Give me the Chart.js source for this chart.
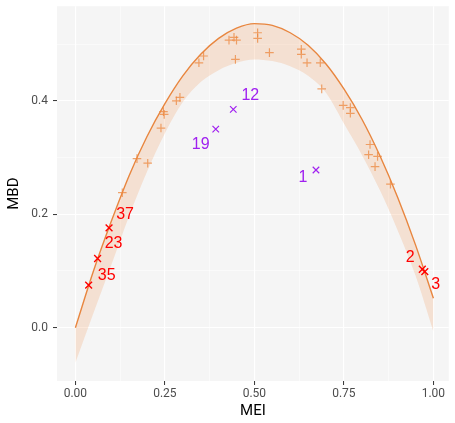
<!DOCTYPE html>
<html>
<head>
<meta charset="utf-8">
<script src="https://cdn.jsdelivr.net/npm/chart.js@4.4.1/dist/chart.umd.min.js"></script>
<style>
  html, body { margin: 0; padding: 0; background: #ffffff; }
  #wrap { width: 455px; height: 423px; position: relative; }
</style>
</head>
<body>
<div id="wrap"><canvas id="mbdChart" width="455" height="423"></canvas></div>
<script>
// Reference curve (upper edge) and ribbon lower edge
const curveMEI = [0, 0.05, 0.10, 0.15, 0.20, 0.25, 0.30, 0.35, 0.40, 0.45, 0.50,
                  0.55, 0.60, 0.65, 0.70, 0.75, 0.80, 0.85, 0.90, 0.95, 1.00];
const upperMBD = [0, 0.099, 0.187, 0.268, 0.337, 0.395, 0.444, 0.482, 0.510, 0.528, 0.536,
                  0.533, 0.520, 0.498, 0.465, 0.421, 0.368, 0.304, 0.230, 0.146, 0.052];
const lowerMBD = [-0.062, 0.025, 0.110, 0.197, 0.275, 0.343, 0.398, 0.433, 0.454, 0.467, 0.473,
                  0.470, 0.461, 0.444, 0.414, 0.360, 0.305, 0.243, 0.172, 0.092, -0.007];

// Orange "+" points
const plusMEI = [0.131, 0.172, 0.202, 0.239, 0.246, 0.248, 0.282, 0.292, 0.345, 0.358,
                 0.429, 0.443, 0.450, 0.447, 0.509, 0.509, 0.542, 0.631, 0.631, 0.647,
                 0.684, 0.688, 0.748, 0.768, 0.768, 0.823, 0.819, 0.844, 0.837, 0.880];
const plusMBD = [0.238, 0.298, 0.290, 0.352, 0.381, 0.376, 0.400, 0.406, 0.467, 0.479,
                 0.507, 0.512, 0.507, 0.473, 0.520, 0.510, 0.485, 0.491, 0.482, 0.467,
                 0.467, 0.421, 0.392, 0.388, 0.378, 0.323, 0.305, 0.302, 0.284, 0.253];

// Purple labelled points
const purpleMEI = [0.441, 0.392, 0.672];
const purpleMBD = [0.385, 0.350, 0.278];
const purpleLabels = ['12', '19', '1'];

// Red labelled points
const redMEI = [0.094, 0.062, 0.037, 0.969, 0.976];
const redMBD = [0.176, 0.122, 0.075, 0.103, 0.099];
const redLabels = ['37', '23', '35', '2', '3'];

// text nudges for the labels (pixels)
const purpleNudge = [[17, -14], [-15, 15], [-13, 8]];
const redNudge = [[16, -13], [16, -15], [18, -10], [-12, -12], [11, 13]];

const axisFont = 'Roboto, "Noto Sans", sans-serif';
const labelFont = '"Liberation Sans", Arial, sans-serif';

function toPoints(xs, ys) {
    return xs.map((x, i) => ({ x: x, y: ys[i] }));
}

function isMultiple(v, step) {
    const r = v / step;
    return Math.abs(r - Math.round(r)) < 1e-6;
}

// Grey panel behind the grid
const panelBackground = {
    id: 'panelBackground',
    beforeDraw(chart) {
        const { ctx, chartArea } = chart;
        ctx.save();
        ctx.fillStyle = '#f5f5f5';
        ctx.fillRect(chartArea.left, chartArea.top, chartArea.right - chartArea.left, chartArea.bottom - chartArea.top);
        ctx.restore();
    }
};

// Text labels next to the coloured points
const pointLabels = {
    id: 'pointLabels',
    afterDatasetsDraw(chart) {
        const { ctx } = chart;
        const xs = chart.scales.x, ys = chart.scales.y;
        ctx.save();
        ctx.font = '16px ' + labelFont;
        ctx.textAlign = 'center';
        ctx.textBaseline = 'middle';
        const draw = (mx, my, labels, nudges, color) => {
            ctx.fillStyle = color;
            labels.forEach((t, i) => {
                const px = xs.getPixelForValue(mx[i]) + nudges[i][0];
                const py = ys.getPixelForValue(my[i]) + nudges[i][1];
                ctx.fillText(t, px, py);
            });
        };
        draw(purpleMEI, purpleMBD, purpleLabels, purpleNudge, '#a020f0');
        draw(redMEI, redMBD, redLabels, redNudge, '#ff0000');
        ctx.restore();
    }
};

const ctx = document.getElementById('mbdChart').getContext('2d');

new Chart(ctx, {
    type: 'scatter',
    data: {
        datasets: [
            {
                type: 'line',
                label: 'lower',
                data: toPoints(curveMEI, lowerMBD),
                borderWidth: 0,
                borderColor: 'rgba(0,0,0,0)',
                pointRadius: 0,
                fill: false,
                cubicInterpolationMode: 'monotone',
                order: 2
            },
            {
                type: 'line',
                label: 'upper',
                data: toPoints(curveMEI, upperMBD),
                borderColor: '#e8863f',
                borderWidth: 1.4,
                backgroundColor: 'rgba(240, 140, 70, 0.2)',
                pointRadius: 0,
                fill: '-1',
                cubicInterpolationMode: 'monotone',
                order: 2
            },
            {
                label: 'plus',
                data: toPoints(plusMEI, plusMBD),
                pointStyle: 'cross',
                pointRadius: 4.3,
                pointBorderWidth: 1.2,
                pointBorderColor: 'rgba(236, 135, 62, 0.75)',
                order: 1
            },
            {
                label: 'purple',
                data: toPoints(purpleMEI, purpleMBD),
                pointStyle: 'crossRot',
                pointRadius: 4.6,
                pointBorderWidth: 1.2,
                pointBorderColor: '#a020f0',
                order: 0
            },
            {
                label: 'red',
                data: toPoints(redMEI, redMBD),
                pointStyle: 'crossRot',
                pointRadius: 4.8,
                pointBorderWidth: 1.4,
                pointBorderColor: '#ff0000',
                order: 0
            }
        ]
    },
    options: {
        responsive: false,
        animation: false,
        events: [],
        layout: { padding: { top: 5, right: 0, left: 0, bottom: 0 } },
        plugins: {
            legend: { display: false },
            tooltip: { enabled: false }
        },
        scales: {
            x: {
                type: 'linear',
                min: -0.0514,
                max: 1.043,
                border: { display: false },
                grid: {
                    color: '#ffffff',
                    lineWidth: c => (c.tick && isMultiple(c.tick.value, 0.25)) ? 1.1 : 0.55,
                    tickLength: 4,
                    tickWidth: 1,
                    tickColor: c => (c.tick && isMultiple(c.tick.value, 0.25)) ? '#333333' : 'rgba(0,0,0,0)'
                },
                ticks: {
                    stepSize: 0.125,
                    includeBounds: false,
                    autoSkip: false,
                    maxRotation: 0,
                    padding: 2,
                    color: '#4d4d4d',
                    font: { family: axisFont, size: 12 },
                    callback: v => isMultiple(v, 0.25) ? v.toFixed(2) : ''
                },
                title: {
                    display: true,
                    text: 'MEI',
                    color: '#000000',
                    font: { family: axisFont, size: 15 },
                    padding: { top: 0, bottom: 3 }
                },
                afterFit: s => { s.height = 42; s.paddingLeft = 0; s.paddingRight = 0; }
            },
            y: {
                type: 'linear',
                min: -0.094,
                max: 0.5668,
                border: { display: false },
                grid: {
                    color: '#ffffff',
                    lineWidth: c => (c.tick && isMultiple(c.tick.value, 0.2)) ? 1.1 : 0.55,
                    tickLength: 4,
                    tickWidth: 1,
                    tickColor: c => (c.tick && isMultiple(c.tick.value, 0.2)) ? '#333333' : 'rgba(0,0,0,0)'
                },
                ticks: {
                    stepSize: 0.1,
                    includeBounds: false,
                    autoSkip: false,
                    padding: 5,
                    color: '#4d4d4d',
                    font: { family: axisFont, size: 12 },
                    callback: v => isMultiple(v, 0.2) ? v.toFixed(1) : ''
                },
                title: {
                    display: true,
                    text: 'MBD',
                    color: '#000000',
                    font: { family: axisFont, size: 15 },
                    padding: { top: 5, bottom: 0 }
                },
                afterFit: s => { s.width = 57; s.paddingTop = 0; s.paddingBottom = 0; }
            }
        }
    },
    plugins: [panelBackground, pointLabels]
});
</script>
</body>
</html>
